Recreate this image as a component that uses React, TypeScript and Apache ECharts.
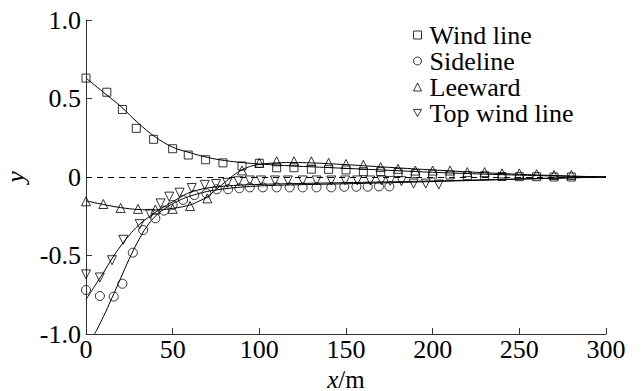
import React, { useEffect, useRef } from 'react';
import * as echarts from 'echarts';

// Markers
const windX = [0, 12, 21, 29, 39, 50, 59, 69, 79, 90, 100, 110, 120, 130, 140, 150, 160, 170, 180, 190, 200, 210, 220, 230, 240, 250, 260, 270, 280];
const windY = [0.63, 0.54, 0.43, 0.31, 0.24, 0.18, 0.14, 0.11, 0.09, 0.07, 0.087, 0.059, 0.059, 0.05, 0.049, 0.045, 0.034, 0.034, 0.028, 0.021, 0.019, 0.013, 0.008, 0.008, 0.003, 0.002, 0.002, 0.0, 0.0];

const sideX = [0, 8, 16, 21, 27, 33, 40, 45, 50, 56, 62.5, 69.5, 75.5, 82, 88.5, 94.5, 102, 110, 117.5, 125, 133, 141.5, 149, 156, 162.5, 169, 175];
const sideY = [-0.72, -0.758, -0.762, -0.68, -0.482, -0.338, -0.263, -0.214, -0.178, -0.146, -0.115, -0.104, -0.078, -0.078, -0.072, -0.066, -0.066, -0.066, -0.066, -0.066, -0.066, -0.066, -0.062, -0.062, -0.062, -0.06, -0.06];

const leeX = [0, 10, 20, 30, 40, 50, 60, 70, 90, 100, 110, 120, 130, 140, 150, 160, 170, 180, 190, 200, 210, 220, 230, 240, 250, 260, 270, 280];
const leeY = [-0.155, -0.172, -0.197, -0.203, -0.207, -0.203, -0.185, -0.136, 0.042, 0.09, 0.1, 0.1, 0.1, 0.09, 0.083, 0.077, 0.063, 0.052, 0.041, 0.041, 0.041, 0.031, 0.031, 0.023, 0.023, 0.018, 0.013, 0.013];

const topX = [0, 8, 15, 21.5, 31, 37, 43, 48, 54, 61, 68.5, 75, 81.5, 88, 94.5, 101, 109, 116.5, 125, 133, 141.5, 149.5, 156.5, 164, 170.5, 175.5, 182, 189, 196, 203.5];
const topY = [-0.62, -0.64, -0.53, -0.4, -0.3, -0.235, -0.168, -0.125, -0.1, -0.07, -0.05, -0.045, -0.037, -0.027, -0.022, -0.022, -0.022, -0.022, -0.022, -0.022, -0.022, -0.022, -0.022, -0.022, -0.022, -0.025, -0.027, -0.042, -0.042, -0.048];

// Fitted curves
const windCurveX = [0, 10, 20, 30, 40, 50, 60, 70, 80, 90, 100, 120, 140, 160, 180, 200, 220, 240, 260, 280, 300];
const windCurveY = [0.63, 0.54, 0.45, 0.345, 0.255, 0.19, 0.155, 0.125, 0.105, 0.092, 0.083, 0.07, 0.06, 0.05, 0.04, 0.03, 0.022, 0.015, 0.009, 0.004, 0];

const leeCurveX = [0, 10, 20, 30, 40, 50, 60, 65, 70, 75, 80, 85, 90, 95, 100, 110, 120, 130, 140, 160, 180, 200, 220, 240, 260, 280, 300];
const leeCurveY = [-0.152, -0.175, -0.195, -0.207, -0.21, -0.2, -0.178, -0.155, -0.125, -0.08, -0.035, 0.01, 0.045, 0.068, 0.08, 0.09, 0.092, 0.09, 0.085, 0.072, 0.058, 0.045, 0.033, 0.022, 0.013, 0.006, 0];

const sideCurveX = [5, 10, 15, 20, 25, 30, 35, 40, 45, 50, 55, 60, 70, 80, 90, 100, 120, 150, 180, 210, 240, 270, 300];
const sideCurveY = [-1.0, -0.89, -0.77, -0.645, -0.52, -0.41, -0.317, -0.25, -0.205, -0.17, -0.143, -0.122, -0.092, -0.075, -0.064, -0.057, -0.05, -0.043, -0.035, -0.026, -0.017, -0.008, 0];

const topCurveX = [0, 5, 10, 15, 20, 25, 30, 35, 40, 45, 50, 55, 60, 65, 70, 80, 90, 100, 120, 150, 180, 210, 240, 270, 300];
const topCurveY = [-0.78, -0.695, -0.61, -0.52, -0.44, -0.37, -0.31, -0.265, -0.225, -0.19, -0.158, -0.125, -0.098, -0.082, -0.07, -0.058, -0.051, -0.047, -0.042, -0.036, -0.03, -0.023, -0.015, -0.007, 0];

const xTicks = [0, 50, 100, 150, 200, 250, 300];
const yTicks = [-1.0, -0.5, 0, 0.5, 1.0];

const FONT = "'Liberation Serif', 'Times New Roman', serif";

const zip = (xs: number[], ys: number[]) => xs.map((x, i) => [x, ys[i]]);

export default function App() {
  const ref = useRef<HTMLDivElement>(null);
  useEffect(() => {
    if (!ref.current) return;
    const chart = echarts.init(ref.current, undefined, { renderer: 'svg' });
    const markerStyle = { color: 'rgba(0,0,0,0)', borderColor: '#000', borderWidth: 1 };
    const curve = (name: string, xs: number[], ys: number[]) => ({
      name,
      type: 'line',
      data: zip(xs, ys),
      smooth: 0.4,
      showSymbol: false,
      symbol: 'none',
      lineStyle: { color: '#000', width: 1 },
      z: 3,
      silent: true,
    });
    chart.setOption({
      animation: false,
      backgroundColor: '#fff',
      textStyle: { fontFamily: FONT },
      grid: { left: 86, right: 37, top: 20, bottom: 57, outerBoundsMode: 'none', containLabel: false },
      legend: {
        orient: 'vertical',
        left: 413,
        top: 22,
        itemWidth: 8,
        itemHeight: 8,
        itemGap: 0,
        padding: 0,
        textStyle: { fontFamily: FONT, fontSize: 26, color: '#000', padding: [0, 0, 0, 3] },
        data: [
          { name: 'Wind line', icon: 'rect' },
          { name: 'Sideline', icon: 'circle' },
          { name: 'Leeward', icon: 'triangle' },
          { name: 'Top wind line', icon: 'path://M0,0L10,0L5,9Z' },
        ],
        itemStyle: { color: 'rgba(0,0,0,0)', borderColor: '#000', borderWidth: 1 },
      },
      xAxis: {
        type: 'value',
        min: xTicks[0],
        max: xTicks[xTicks.length - 1],
        interval: 50,
        name: '{i|x}/m',
        nameLocation: 'middle',
        nameGap: 27,
        nameTextStyle: {
          fontFamily: FONT, fontSize: 25, color: '#000', lineHeight: 22,
          rich: { i: { fontFamily: FONT, fontSize: 25, fontStyle: 'italic', color: '#000', lineHeight: 22 } },
        },
        axisLine: { onZero: false, lineStyle: { color: '#333', width: 1 } },
        axisTick: { inside: true, length: 6, lineStyle: { color: '#333' } },
        axisLabel: { fontFamily: FONT, fontSize: 26, color: '#000', margin: 2 },
        splitLine: { show: false },
      },
      yAxis: {
        type: 'value',
        min: yTicks[0],
        max: yTicks[yTicks.length - 1],
        interval: 0.5,
        name: 'y',
        nameLocation: 'middle',
        nameGap: 42,
        nameRotate: 90,
        nameTextStyle: { fontFamily: FONT, fontSize: 26, fontStyle: 'italic', color: '#000' },
        axisLine: { onZero: false, lineStyle: { color: '#333', width: 1 } },
        axisTick: { inside: true, length: 6, lineStyle: { color: '#333' } },
        axisLabel: {
          fontFamily: FONT, fontSize: 26, color: '#000', margin: 5,
          formatter: (v: number) => (v === 0 ? '0' : v.toFixed(1)),
        },
        splitLine: { show: false },
      },
      series: [
        curve('c1', windCurveX, windCurveY),
        curve('c2', sideCurveX, sideCurveY),
        curve('c3', leeCurveX, leeCurveY),
        curve('c4', topCurveX, topCurveY),
        {
          name: 'Wind line', type: 'scatter', symbol: 'rect', symbolSize: 8,
          data: zip(windX, windY), itemStyle: markerStyle, z: 4,
          markLine: {
            silent: true, symbol: 'none', label: { show: false },
            lineStyle: { color: '#000', width: 1, type: [6, 5] },
            data: [{ yAxis: 0 }],
          },
        },
        { name: 'Sideline', type: 'scatter', symbol: 'circle', symbolSize: 9, data: zip(sideX, sideY), itemStyle: markerStyle, z: 4 },
        { name: 'Leeward', type: 'scatter', symbol: 'triangle', symbolSize: 9, data: zip(leeX, leeY), itemStyle: markerStyle, z: 4 },
        { name: 'Top wind line', type: 'scatter', symbol: 'triangle', symbolRotate: 180, symbolSize: 9, data: zip(topX, topY), itemStyle: markerStyle, z: 4 },
      ],
    });
    return () => chart.dispose();
  }, []);
  return <div ref={ref} style={{ position: 'fixed', left: 0, top: 0, width: 643, height: 391 }} />;
}
